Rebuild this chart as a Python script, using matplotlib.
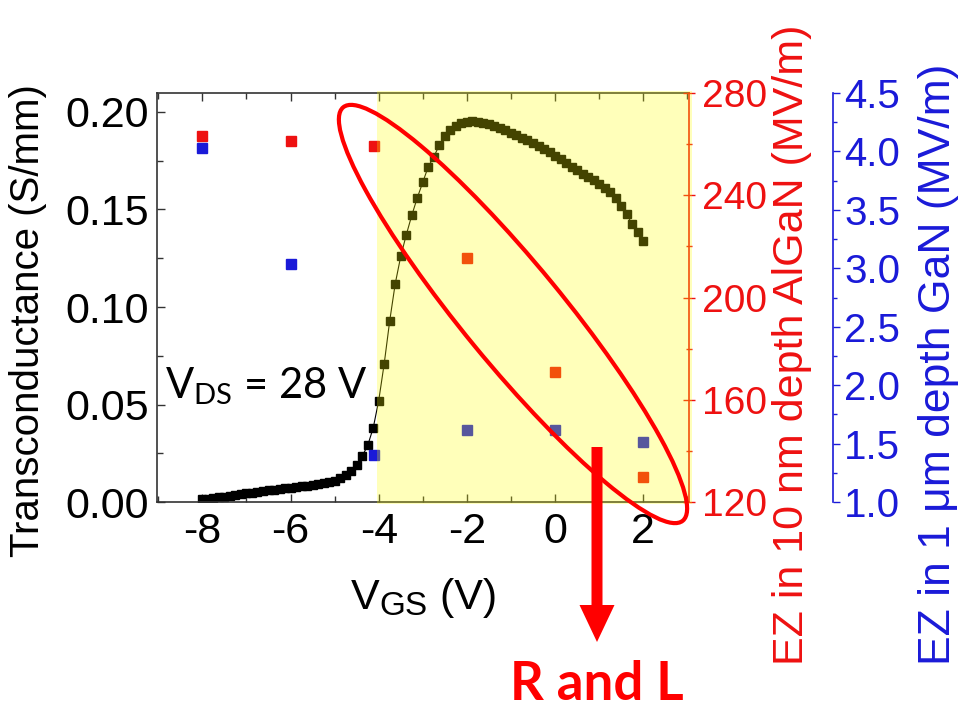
import numpy as np
import matplotlib.pyplot as plt
from matplotlib.patches import Rectangle, Ellipse, FancyArrow
from matplotlib.transforms import IdentityTransform, blended_transform_factory
from matplotlib.ticker import MultipleLocator

plt.rcParams['font.family'] = 'Liberation Sans'
plt.rcParams['axes.unicode_minus'] = False

# gate sweep, 0.125 V step
vgs = np.arange(-8, 2.0001, 0.125)
gm = [0.0015, 0.0018, 0.0021, 0.0025, 0.0028, 0.0032, 0.0036, 0.0040,
      0.0044, 0.0048, 0.0052, 0.0056, 0.0060, 0.0064, 0.0068, 0.0071,
      0.0074, 0.0077, 0.0080, 0.0083, 0.0087, 0.0091, 0.0096, 0.0102,
      0.0110, 0.0122, 0.0138, 0.0160, 0.0190, 0.0235, 0.0290, 0.0380,
      0.0520, 0.0710, 0.0930, 0.1120, 0.1260, 0.1370, 0.1470, 0.1560,
      0.1640, 0.1720, 0.1770, 0.1830, 0.1875, 0.1910, 0.1930, 0.1943,
      0.1950, 0.1952, 0.1950, 0.1945, 0.1936, 0.1927, 0.1918, 0.1906,
      0.1893, 0.1880, 0.1868, 0.1855, 0.1841, 0.1826, 0.1810, 0.1793,
      0.1776, 0.1757, 0.1738, 0.1719, 0.1700, 0.1683, 0.1667, 0.1650,
      0.1632, 0.1612, 0.1590, 0.1558, 0.1520, 0.1475, 0.1425, 0.1385,
      0.1340]

# simulated vertical field
ez_vgs = [-8, -6, -4.1, -2, 0, 2]
ez_algan = [263.2, 261.2, 259.3, 215.6, 171.0, 129.9]   # MV/m, 10 nm depth
ez_gan = [4.03, 3.04, 1.40, 1.62, 1.62, 1.51]           # MV/m, 1 um depth

red = '#ee1111'
blue = '#1a1ad8'
fs = 31

fig = plt.figure(figsize=(9.59, 7.12), dpi=100)
ax = fig.add_axes([0.1637, 0.2949, 0.5548, 0.5744])
ax2 = ax.twinx()
ax3 = ax.twinx()

ax.plot(vgs, gm, 's-', color='black', ms=5.5, lw=0.8)
ax.set_xlim(-9.03, 3.04)
ax.set_ylim(0, 0.2097)
ax.xaxis.set_major_locator(MultipleLocator(2))
ax.xaxis.set_minor_locator(MultipleLocator(1))
ax.yaxis.set_major_locator(MultipleLocator(0.05))
ax.yaxis.set_minor_locator(MultipleLocator(0.025))
ax.yaxis.set_major_formatter(lambda v, p: f'{v:.2f}')
ax.tick_params(which='both', direction='in', top=True, right=False,
               labelsize=fs, width=1, color='#333333')
ax.tick_params(which='major', length=6)
ax.tick_params(which='minor', length=4)
ax.tick_params(axis='x', pad=7)
ax.tick_params(axis='y', pad=6)
for s in ['left', 'bottom', 'top']:
    ax.spines[s].set_color('#333333')
    ax.spines[s].set_linewidth(1.2)
ax.spines['right'].set_visible(False)

ax.set_ylabel('Transconductance (S/mm)', fontsize=29, ha='center', va='center')
ax.yaxis.set_label_coords(-0.2425, 0.4425)

# x label: V with large GS subscript
t_v = ax.text(0.365, -0.262, 'V', transform=ax.transAxes, fontsize=fs,
              ha='left', va='baseline')
t_gs = ax.annotate('GS', xy=(1, 0), xycoords=t_v, xytext=(0, -3),
                   textcoords='offset points', fontsize=24,
                   ha='left', va='bottom')
ax.annotate(' (V)', xy=(1, 0), xycoords=t_gs, xytext=(0, 3),
            textcoords='offset points', fontsize=fs, ha='left', va='bottom')

ax.text(-8.85, 0.0533, r'$\mathregular{V_{DS}}$ = 28 V', fontsize=30,
        family='Lato', va='baseline', ha='left')

# AlGaN field axis
ax2.plot(ez_vgs, ez_algan, 's', color=red, ms=7)
ax2.set_ylim(120, 280)
ax2.yaxis.set_major_locator(MultipleLocator(40))
ax2.yaxis.set_minor_locator(MultipleLocator(20))
ax2.tick_params(axis='y', which='both', direction='inout', colors=red,
                labelsize=28, width=1, pad=5)
ax2.tick_params(axis='y', which='major', length=8)
ax2.tick_params(axis='y', which='minor', length=5)
for s in ['left', 'bottom', 'top']:
    ax2.spines[s].set_visible(False)
ax2.spines['right'].set_color(red)
ax2.spines['right'].set_linewidth(1.2)
ax2.set_ylabel('EZ in 10 nm depth AlGaN (MV/m)', color=red, fontsize=31,
               ha='left', va='center', rotation=90)
ax2.yaxis.set_label_coords(1.1935, -0.3985)

# GaN field axis
ax3.plot(ez_vgs, ez_gan, 's', color=blue, ms=7)
ax3.set_ylim(1.0, 4.5)
ax3.yaxis.set_major_locator(MultipleLocator(0.5))
ax3.yaxis.set_minor_locator(MultipleLocator(0.25))
ax3.yaxis.set_major_formatter(lambda v, p: f'{v:.1f}')
ax3.spines['right'].set_position(('axes', 1.2707))
for s in ['left', 'bottom', 'top']:
    ax3.spines[s].set_visible(False)
ax3.spines['right'].set_color(blue)
ax3.spines['right'].set_linewidth(1.2)
ax3.tick_params(axis='y', which='both', direction='out', colors=blue,
                labelsize=29, width=1, pad=3)
ax3.tick_params(axis='y', which='major', length=5)
ax3.tick_params(axis='y', which='minor', length=3)
ax3.set_ylabel('EZ in 1 μm depth GaN (MV/m)', color=blue, fontsize=32,
               ha='left', va='center', rotation=90)
ax3.yaxis.set_label_coords(1.4680, -0.3985)

# on-state region shading
shade = Rectangle((-4.05, -0.004), 7.15, 1.008,
                  transform=blended_transform_factory(ax.transData, ax.transAxes),
                  facecolor=(1, 1, 0, 0.27), edgecolor='none', zorder=10)
fig.add_artist(shade)

px = IdentityTransform()
fig.add_artist(Ellipse((513, 398), 535, 100, angle=-50.6, fill=False,
                       edgecolor='red', lw=3, transform=px, zorder=20))
fig.add_artist(FancyArrow(597, 265, 0, -195, width=11, head_width=35,
                          head_length=37, length_includes_head=True,
                          color='red', lw=0, transform=px, zorder=21))
fig.text(597 / 959, 1 - 685 / 712, 'R and L', color='red', fontsize=38,
         weight='bold', family='Lato', ha='center', va='center')

fig.savefig('out.png', dpi=100)
